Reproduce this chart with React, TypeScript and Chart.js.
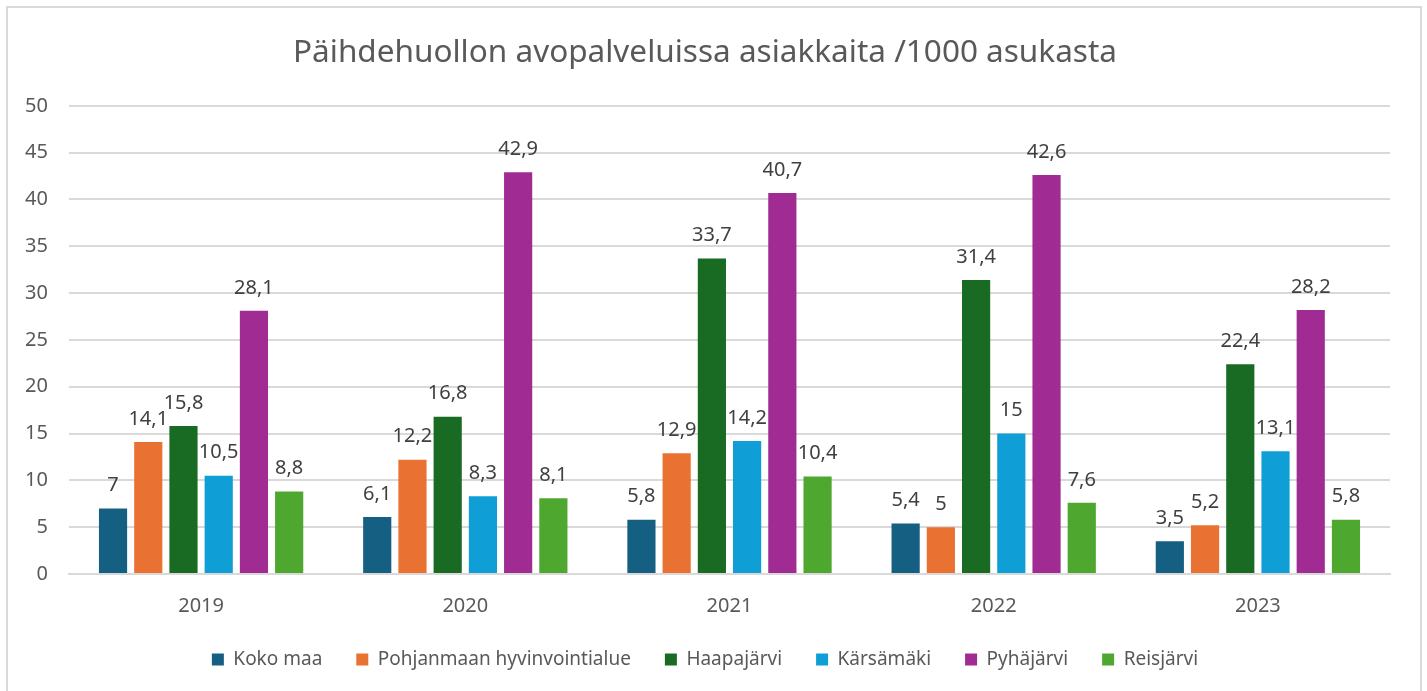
import React, { useEffect, useRef } from "react";
import { Chart, registerables } from "chart.js";

Chart.register(...registerables);

const title = "Päihdehuollon avopalveluissa asiakkaita /1000 asukasta";
const years = ["2019", "2020", "2021", "2022", "2023"];
const seriesNames = ["Koko maa", "Pohjanmaan hyvinvointialue", "Haapajärvi", "Kärsämäki", "Pyhäjärvi", "Reisjärvi"];
const kokoMaa = [7, 6.1, 5.8, 5.4, 3.5];
const pohjanmaa = [14.1, 12.2, 12.9, 5, 5.2];
const haapajarvi = [15.8, 16.8, 33.7, 31.4, 22.4];
const karsamaki = [10.5, 8.3, 14.2, 15, 13.1];
const pyhajarvi = [28.1, 42.9, 40.7, 42.6, 28.2];
const reisjarvi = [8.8, 8.1, 10.4, 7.6, 5.8];
const colors = ["#156082", "#E97132", "#196B24", "#0F9ED5", "#A02B93", "#4EA72E"];
const yTicks = [0, 5, 10, 15, 20, 25, 30, 35, 40, 45, 50];

const FONT = "'Noto Sans', sans-serif";

const labelPlugin = {
  id: "barLabels",
  afterDatasetsDraw(chart: any) {
    const ctx = chart.ctx;
    ctx.save();
    ctx.font = `20px ${FONT}`;
    ctx.fillStyle = "#404040";
    ctx.textAlign = "center";
    ctx.textBaseline = "bottom";
    chart.data.datasets.forEach((ds: any, i: number) => {
      const meta = chart.getDatasetMeta(i);
      meta.data.forEach((bar: any, j: number) => {
        const v = ds.data[j];
        ctx.fillText(String(v).replace(".", ","), bar.x, bar.y - 13);
      });
    });
    ctx.restore();
  },
};

export default function App() {
  const ref = useRef<HTMLCanvasElement>(null);
  useEffect(() => {
    const allData = [kokoMaa, pohjanmaa, haapajarvi, karsamaki, pyhajarvi, reisjarvi];
    const chart = new Chart(ref.current!, {
      type: "bar",
      data: {
        labels: years,
        datasets: seriesNames.map((name, i) => ({
          label: name,
          data: allData[i],
          backgroundColor: colors[i],
          barPercentage: 0.8,
          categoryPercentage: 0.8,
        })),
      },
      options: {
        animation: false,
        responsive: false,
        maintainAspectRatio: false,
        layout: { padding: { left: 20, right: 37, top: 20, bottom: 12 } },
        plugins: {
          title: {
            display: true,
            text: title,
            color: "#595959",
            font: { family: FONT, size: 31.5, weight: "normal" },
            padding: { top: 14, bottom: 34 },
          },
          legend: {
            position: "bottom",
            labels: {
              boxWidth: 12,
              boxHeight: 12,
              color: "#595959",
              font: { family: FONT, size: 19 },
              padding: 34,
            },
          },
          tooltip: { enabled: false },
        },
        scales: {
          x: {
            grid: { display: false },
            border: { color: "#d9d9d9", width: 2 },
            ticks: { color: "#595959", font: { family: FONT, size: 20 }, padding: 12 },
            afterFit: (s: any) => {
              s.height = 42;
            },
          },
          y: {
            min: 0,
            max: 50,
            afterBuildTicks: (s: any) => {
              s.ticks = yTicks.map((v) => ({ value: v }));
            },
            grid: { color: "#d9d9d9", lineWidth: 2, drawTicks: false },
            border: { display: false },
            ticks: { color: "#595959", font: { family: FONT, size: 20 }, padding: 21 },
            afterFit: (s: any) => {
              s.width = 49;
            },
          },
        },
      },
      plugins: [labelPlugin],
    });
    return () => chart.destroy();
  }, []);
  return (
    <div style={{ position: "absolute", left: 0, top: 0, width: 1427, height: 691, background: "#fff" }}>
      <canvas ref={ref} width={1427} height={691} style={{ position: "absolute", left: 0, top: 0 }} />
      <div
        style={{
          position: "absolute",
          left: 6,
          top: 6,
          width: 1412,
          height: 690,
          border: "2px solid #d9d9d9",
          pointerEvents: "none",
        }}
      />
    </div>
  );
}
